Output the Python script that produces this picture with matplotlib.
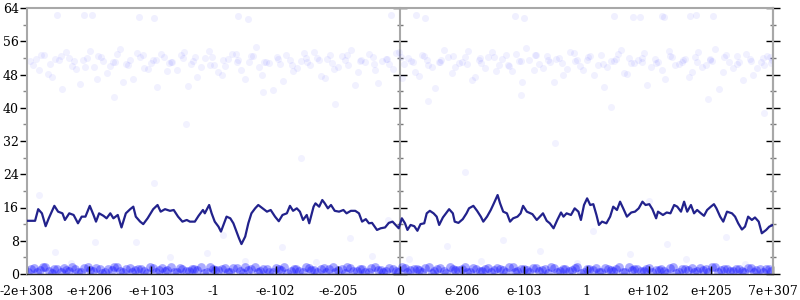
import matplotlib
matplotlib.use("Agg")
import matplotlib.pyplot as plt
from matplotlib.ticker import MultipleLocator

# moving average line, x in ordinal units (-6 .. 6)
line_x = [-6.00, -5.87, -5.82, -5.76, -5.70, -5.65, -5.56, -5.50, -5.43, -5.39,
          -5.32, -5.25, -5.18, -5.12, -5.06, -4.99, -4.93, -4.89, -4.84, -4.77,
          -4.72, -4.66, -4.61, -4.54, -4.48, -4.41, -4.34, -4.29, -4.25, -4.18,
          -4.13, -4.06, -3.97, -3.90, -3.85, -3.78, -3.70, -3.64, -3.57, -3.50,
          -3.43, -3.38, -3.30, -3.24, -3.17, -3.14, -3.07, -3.03, -2.98, -2.92,
          -2.88, -2.83, -2.79, -2.73, -2.68, -2.64, -2.59, -2.55, -2.49, -2.44,
          -2.39, -2.33, -2.28, -2.21, -2.14, -2.08, -2.01, -1.95, -1.89, -1.82,
          -1.77, -1.72, -1.66, -1.61, -1.56, -1.50, -1.46, -1.39, -1.36, -1.30,
          -1.25, -1.21, -1.16, -1.11, -1.05, -0.98, -0.91, -0.86, -0.79, -0.72,
          -0.66, -0.61, -0.55, -0.50, -0.45, -0.37, -0.31, -0.24, -0.18, -0.12,
          -0.07, -0.02, 0.03, 0.08, 0.12, 0.17, 0.23, 0.28, 0.33, 0.39,
          0.43, 0.48, 0.54, 0.59, 0.63, 0.69, 0.75, 0.79, 0.85, 0.88,
          0.94, 1.01, 1.07, 1.11, 1.18, 1.24, 1.30, 1.34, 1.40, 1.46,
          1.51, 1.57, 1.61, 1.66, 1.72, 1.77, 1.82, 1.89, 1.94, 1.98,
          2.04, 2.13, 2.20, 2.25, 2.30, 2.36, 2.41, 2.47, 2.53, 2.59,
          2.63, 2.68, 2.75, 2.81, 2.87, 2.91, 2.96, 3.01, 3.06, 3.11,
          3.16, 3.20, 3.25, 3.32, 3.38, 3.43, 3.49, 3.54, 3.59, 3.65,
          3.72, 3.78, 3.84, 3.90, 3.95, 4.01, 4.06, 4.12, 4.15, 4.23,
          4.29, 4.35, 4.41, 4.46, 4.52, 4.57, 4.62, 4.68, 4.73, 4.78,
          4.84, 4.89, 4.94, 5.00, 5.05, 5.09, 5.15, 5.20, 5.26, 5.34,
          5.39, 5.44, 5.50, 5.55, 5.60, 5.66, 5.71, 5.77, 5.82, 5.89,
          5.94, 6.00]
line_y = [12.8, 12.8, 15.6, 14.6, 11.5, 13.4, 16.4, 15.0, 14.6, 13.0,
          14.6, 14.2, 12.2, 13.8, 13.8, 16.4, 14.2, 12.6, 14.6, 14.0,
          13.4, 14.6, 13.4, 14.2, 11.2, 14.6, 15.6, 16.2, 13.8, 12.6,
          12.0, 13.4, 15.6, 16.6, 15.0, 15.6, 15.2, 15.4, 13.8, 12.6,
          13.0, 12.6, 12.6, 14.0, 15.4, 14.6, 16.6, 14.6, 12.6, 11.4,
          10.2, 12.2, 13.8, 13.4, 12.2, 10.6, 8.6, 7.2, 9.0, 12.2,
          14.6, 15.8, 16.6, 15.8, 15.0, 15.4, 13.8, 12.7, 14.2, 14.6,
          16.4, 15.2, 15.8, 15.0, 13.0, 14.2, 12.2, 16.2, 17.0, 16.2,
          17.8, 17.0, 15.8, 16.6, 15.2, 15.0, 15.4, 14.6, 15.2, 15.2,
          14.6, 12.6, 13.2, 12.2, 12.3, 10.6, 11.0, 11.2, 12.3, 12.6,
          11.8, 11.0, 13.4, 12.2, 10.6, 11.8, 11.5, 10.4, 12.0, 12.2,
          14.6, 15.2, 14.6, 13.8, 11.8, 13.6, 14.8, 15.6, 14.6, 12.6,
          12.3, 13.2, 14.6, 15.8, 16.4, 15.2, 13.8, 12.6, 13.8, 15.4,
          17.0, 19.0, 17.0, 15.0, 14.6, 12.6, 13.4, 13.8, 14.6, 16.4,
          15.0, 14.4, 13.0, 13.8, 14.6, 12.8, 12.2, 11.0, 13.0, 14.8,
          13.8, 14.6, 14.2, 15.8, 15.0, 13.0, 16.6, 18.2, 16.6, 16.8,
          14.2, 11.8, 12.6, 12.2, 13.8, 16.2, 15.4, 17.4, 15.8, 13.8,
          14.8, 15.0, 15.8, 17.4, 16.6, 16.8, 15.6, 13.4, 15.0, 14.2,
          14.8, 14.6, 16.6, 16.2, 15.0, 17.4, 15.0, 16.6, 14.6, 15.4,
          14.6, 14.0, 15.4, 16.2, 16.8, 15.8, 13.8, 12.6, 15.0, 14.6,
          13.8, 12.2, 10.7, 11.4, 13.8, 13.0, 13.6, 12.6, 9.8, 10.6,
          11.4, 11.8]

# upper band of samples
up_x = [-5.95, -5.81, -5.72, -5.60, -5.49, -5.38, -5.27, -5.15, -5.04, -4.93,
        -4.85, -4.71, -4.62, -4.50, -4.41, -4.29, -4.18, -4.06, -3.97, -3.85,
        -3.74, -3.66, -3.52, -3.41, -3.33, -3.20, -3.08, -2.99, -2.87, -2.76,
        -2.64, -2.55, -2.43, -2.31, -2.22, -2.10, -1.98, -1.89, -1.77, -1.66,
        -1.54, -1.45, -1.33, -1.21, -1.12, -1.00, -0.88, -0.79, -0.67, -0.56,
        -0.44, -0.35, -0.23, -0.11, -0.02, 0.07, 0.18, 0.30, 0.39, 0.51,
        0.62, 0.71, 0.83, 0.95, 1.04, 1.16, 1.27, 1.36, 1.48, 1.59,
        1.71, 1.80, 1.92, 2.03, 2.15, 2.24, 2.36, 2.47, 2.56, 2.68,
        2.80, 2.89, 3.01, 3.12, 3.24, 3.33, 3.45, 3.56, 3.65, 3.77,
        3.89, 3.98, 4.10, 4.21, 4.33, 4.42, 4.54, 4.65, 4.74, 4.86,
        4.98, 5.07, 5.19, 5.30, 5.42, 5.51, 5.63, 5.74, 5.86, 5.95]
up_y = [51.2, 49.0, 52.8, 47.5, 51.6, 53.4, 50.1, 45.8, 51.9, 49.7,
        52.4, 48.3, 51.0, 54.1, 50.6, 46.9, 52.2, 49.4, 51.5, 53.0,
        48.8, 50.9, 52.6, 45.2, 51.3, 49.9, 53.7, 50.4, 47.8, 51.8,
        52.9, 49.2, 51.1, 54.6, 48.0, 50.7, 52.3, 46.4, 51.6, 49.5,
        53.2, 50.2, 51.9, 47.1, 52.7, 49.8, 51.4, 54.0, 48.6, 50.9,
        52.1, 45.9, 51.7, 49.3, 53.3, 50.5, 51.2, 47.6, 52.5, 49.9,
        51.0, 53.9, 48.4, 50.8, 52.2, 46.7, 51.5, 49.6, 53.5, 50.3,
        52.8, 48.9, 51.3, 54.4, 49.1, 50.6, 52.4, 46.1, 51.9, 49.4,
        53.1, 50.0, 51.6, 47.9, 52.6, 49.7, 51.2, 53.8, 48.2, 50.7,
        52.0, 45.5, 51.8, 49.2, 53.6, 50.4, 51.1, 47.3, 52.3, 49.8,
        51.4, 54.2, 48.7, 50.9, 52.5, 46.6, 51.7, 49.5, 50.2, 52.1]

up2_x = [-5.90, -5.77, -5.66, -5.55, -5.43, -5.32, -5.21, -5.10, -4.98, -4.88,
         -4.77, -4.66, -4.55, -4.45, -4.34, -4.23, -4.12, -4.01, -3.91, -3.79,
         -3.69, -3.58, -3.47, -3.36, -3.26, -3.14, -3.03, -2.93, -2.82, -2.70,
         -2.60, -2.49, -2.37, -2.27, -2.16, -2.04, -1.93, -1.83, -1.72, -1.60,
         -1.50, -1.39, -1.27, -1.17, -1.06, -0.94, -0.84, -0.73, -0.62, -0.50,
         -0.40, -0.29, -0.17, -0.07, 0.03, 0.13, 0.24, 0.35, 0.45, 0.57,
         0.66, 0.77, 0.89, 0.99, 1.10, 1.21, 1.31, 1.42, 1.54, 1.64,
         1.75, 1.86, 1.97, 2.08, 2.19, 2.30, 2.41, 2.51, 2.62, 2.74,
         2.84, 2.95, 3.06, 3.18, 3.28, 3.39, 3.50, 3.61, 3.71, 3.83,
         3.93, 4.04, 4.15, 4.27, 4.37, 4.48, 4.59, 4.70, 4.80, 4.92,
         5.02, 5.13, 5.24, 5.36, 5.46, 5.57, 5.68, 5.80, 5.90, 5.99]
up2_y = [50.4, 52.6, 48.1, 51.7, 44.6, 52.0, 49.3, 51.4, 53.6, 47.0,
         51.2, 50.0, 52.9, 46.3, 51.5, 53.1, 49.6, 50.8, 44.9, 52.3,
         51.0, 49.0, 53.4, 50.6, 47.4, 51.9, 52.2, 48.5, 50.1, 53.0,
         51.4, 46.8, 52.5, 49.7, 51.1, 44.3, 50.5, 52.7, 48.9, 51.3,
         50.9, 53.5, 47.7, 51.8, 49.4, 52.4, 50.3, 45.4, 51.6, 52.9,
         49.1, 51.3, 50.6, 53.2, 47.2, 51.9, 48.5, 52.6, 50.2, 44.8,
         51.5, 52.3, 49.8, 51.1, 53.7, 47.5, 50.7, 52.1, 48.8, 51.7,
         50.1, 53.0, 46.2, 51.4, 52.8, 49.5, 50.9, 51.8, 47.9, 53.3,
         51.6, 49.2, 52.5, 50.4, 45.0, 51.2, 52.9, 48.3, 50.8, 51.5,
         53.1, 49.9, 51.0, 46.9, 52.2, 50.6, 51.8, 48.6, 53.4, 50.2,
         51.3, 44.5, 52.7, 49.6, 51.1, 53.0, 47.8, 50.9, 52.4, 51.6]

up3_x = [-5.85, -5.63, -5.45, -5.24, -5.06, -4.81, -4.58, -4.38, -4.14, -3.93,
         -3.72, -3.49, -3.29, -3.05, -2.84, -2.62, -2.40, -2.19, -1.96, -1.74,
         -1.52, -1.31, -1.09, -0.86, -0.64, -0.42, -0.21, 0.01, 0.21, 0.43,
         0.64, 0.86, 1.08, 1.29, 1.51, 1.73, 1.94, 2.17, 2.38, 2.60,
         2.82, 3.03, 3.26, 3.47, 3.69, 3.90, 4.12, 4.34, 4.55, 4.77,
         4.99, 5.21, 5.42, 5.64, 5.84, 5.97]
up3_y = [51.8, 50.6, 52.4, 51.3, 49.9, 52.1, 51.0, 50.4, 52.7, 51.5,
         50.8, 51.9, 52.3, 50.2, 51.6, 51.1, 52.5, 50.9, 51.7, 50.3,
         52.0, 51.4, 50.7, 52.6, 51.2, 50.5, 51.8, 52.2, 50.9, 51.5,
         51.0, 52.4, 50.6, 51.9, 52.1, 50.4, 51.3, 52.7, 51.6, 50.8,
         51.2, 52.3, 50.5, 51.7, 52.0, 51.1, 50.7, 52.5, 51.4, 50.9,
         51.8, 52.2, 50.6, 51.3, 51.9, 50.8]

hi_x = [-5.52, -5.08, -4.95, -4.20, -3.95, -2.60, -2.45, -0.15, 0.25, 0.40,
        1.85, 2.00, 3.45, 3.75, 3.86, 4.21, 4.25, 4.66, 4.76, 5.03]
hi_y = [62.3, 62.3, 62.3, 61.8, 61.6, 62.0, 61.4, 62.2, 62.4, 61.7,
        62.1, 61.5, 62.0, 61.8, 61.9, 62.0, 61.9, 62.0, 62.2, 62.1]

mid_x = [-5.80, -5.55, -5.30, -4.90, -4.60, -4.25, -3.95, -3.70, -3.45, -3.10,
         -2.85, -2.50, -2.20, -1.90, -1.60, -1.35, -1.05, -0.80, -0.45, -0.20,
         0.15, 0.45, 0.75, 1.05, 1.30, 1.65, 1.95, 2.25, 2.50, 2.85,
         3.10, 3.40, 3.70, 4.00, 4.30, 4.60, 4.95, 5.25, 5.55, 5.85]
mid_y = [19.0, 5.3, 2.6, 7.7, 42.5, 7.7, 21.9, 4.1, 36.0, 5.0,
         9.5, 3.2, 43.8, 6.4, 28.0, 2.9, 40.9, 8.6, 4.4, 13.0,
         3.7, 41.6, 6.8, 24.5, 3.1, 8.2, 43.0, 5.6, 31.5, 2.7,
         10.4, 40.2, 4.8, 17.5, 7.1, 3.5, 42.1, 9.0, 2.4, 38.7]

# lower band of samples
lo_x = [-5.98, -5.89, -5.79, -5.71, -5.60, -5.52, -5.41, -5.33, -5.22, -5.13,
        -5.02, -4.94, -4.83, -4.75, -4.64, -4.55, -4.46, -4.35, -4.27, -4.16,
        -4.07, -3.97, -3.88, -3.78, -3.69, -3.58, -3.50, -3.39, -3.31, -3.20,
        -3.11, -3.01, -2.92, -2.81, -2.73, -2.62, -2.53, -2.44, -2.33, -2.25,
        -2.14, -2.05, -1.95, -1.86, -1.75, -1.67, -1.56, -1.47, -1.38, -1.27,
        -1.19, -1.08, -0.99, -0.89, -0.80, -0.69, -0.61, -0.50, -0.41, -0.31,
        -0.22, -0.11, -0.03, 0.08, 0.16, 0.27, 0.36, 0.46, 0.55, 0.65,
        0.74, 0.85, 0.93, 1.04, 1.12, 1.23, 1.32, 1.42, 1.51, 1.61,
        1.70, 1.81, 1.89, 2.00, 2.08, 2.19, 2.28, 2.38, 2.47, 2.57,
        2.66, 2.77, 2.85, 2.96, 3.04, 3.15, 3.24, 3.34, 3.43, 3.53,
        3.62, 3.73, 3.81, 3.92, 4.00, 4.11, 4.20, 4.30, 4.39, 4.49,
        4.58, 4.69, 4.77, 4.88, 4.96, 5.07, 5.16, 5.26, 5.35, 5.45,
        5.54, 5.65, 5.73, 5.84, 5.93]
lo_y = [0.6, 1.4, 0.9, 1.7, 0.3, 1.1, 1.5, 0.7, 1.2, 0.4,
        1.6, 0.8, 1.3, 0.5, 1.0, 1.7, 0.6, 1.4, 0.9, 1.2,
        0.3, 1.5, 1.0, 0.7, 1.6, 0.4, 1.3, 0.8, 1.1, 1.7,
        0.5, 1.2, 0.9, 1.5, 0.6, 1.4, 0.3, 1.0, 1.6, 0.8,
        1.3, 0.5, 1.1, 1.7, 0.7, 1.2, 0.4, 1.5, 0.9, 1.3,
        0.6, 1.6, 1.0, 0.3, 1.4, 0.8, 1.2, 0.5, 1.7, 1.0,
        0.7, 1.3, 0.4, 1.5, 0.9, 1.1, 0.6, 1.6, 0.8, 1.4,
        0.3, 1.2, 1.0, 1.7, 0.5, 1.3, 0.7, 1.5, 0.9, 1.1,
        0.4, 1.6, 0.8, 1.2, 0.6, 1.4, 1.0, 0.3, 1.5, 0.7,
        1.3, 0.9, 1.7, 0.5, 1.1, 1.4, 0.6, 1.2, 0.8, 1.6,
        0.4, 1.0, 1.3, 0.7, 1.5, 0.9, 1.2, 0.3, 1.7, 0.6,
        1.1, 1.4, 0.8, 1.0, 0.5, 1.6, 0.9, 1.3, 0.7, 1.2,
        0.4, 1.5, 1.0, 0.6, 1.3]

lo2_x = [-5.94, -5.84, -5.75, -5.65, -5.56, -5.46, -5.37, -5.27, -5.18, -5.08,
         -4.98, -4.89, -4.79, -4.70, -4.60, -4.51, -4.41, -4.31, -4.22, -4.12,
         -4.02, -3.93, -3.83, -3.74, -3.64, -3.54, -3.45, -3.35, -3.26, -3.16,
         -3.06, -2.97, -2.87, -2.77, -2.68, -2.58, -2.49, -2.39, -2.29, -2.20,
         -2.10, -2.00, -1.91, -1.81, -1.71, -1.62, -1.52, -1.43, -1.33, -1.23,
         -1.14, -1.04, -0.94, -0.85, -0.75, -0.65, -0.56, -0.46, -0.36, -0.27,
         -0.17, -0.07, 0.03, 0.12, 0.22, 0.31, 0.41, 0.51, 0.60, 0.70,
         0.80, 0.89, 0.99, 1.08, 1.18, 1.28, 1.37, 1.47, 1.56, 1.66,
         1.76, 1.85, 1.95, 2.04, 2.14, 2.24, 2.33, 2.43, 2.52, 2.62,
         2.72, 2.81, 2.91, 3.00, 3.10, 3.20, 3.29, 3.39, 3.48, 3.58,
         3.68, 3.77, 3.87, 3.96, 4.06, 4.16, 4.25, 4.35, 4.44, 4.54,
         4.64, 4.73, 4.83, 4.92, 5.02, 5.12, 5.21, 5.31, 5.40, 5.50,
         5.60, 5.69, 5.79, 5.88, 5.97]
lo2_y = [1.2, 0.5, 1.6, 0.8, 1.3, 0.4, 1.0, 1.7, 0.6, 1.4,
         0.9, 1.5, 0.3, 1.1, 1.6, 0.7, 1.3, 0.5, 1.2, 0.8,
         1.7, 0.6, 1.4, 1.0, 0.4, 1.5, 0.7, 1.2, 0.9, 0.3,
         1.6, 1.0, 1.3, 0.5, 1.4, 0.8, 1.7, 1.1, 0.6, 1.2,
         0.4, 1.5, 0.9, 0.3, 1.3, 0.7, 1.6, 1.0, 0.5, 1.4,
         1.1, 0.6, 1.3, 1.7, 0.8, 1.2, 0.4, 1.5, 0.9, 0.6,
         1.4, 0.8, 1.6, 0.5, 1.2, 1.0, 1.5, 0.3, 1.3, 0.7,
         1.6, 0.9, 1.1, 0.4, 1.4, 0.8, 1.2, 0.6, 1.5, 1.0,
         1.7, 0.5, 1.3, 0.9, 1.4, 0.7, 1.1, 1.6, 0.4, 1.2,
         0.8, 1.5, 0.3, 1.3, 1.0, 0.6, 1.4, 0.9, 1.2, 0.5,
         1.6, 1.1, 0.7, 1.3, 0.4, 1.0, 0.8, 1.5, 0.3, 1.2,
         0.9, 0.6, 1.4, 1.1, 1.6, 0.5, 1.3, 0.7, 1.2, 0.8,
         1.5, 0.4, 1.1, 1.3, 0.7]

tick_pos = [-6, -5, -4, -3, -2, -1, 0, 1, 2, 3, 4, 5, 6]
tick_labels = ["-2e+308", "-e+206", "-e+103", "-1", "-e-102", "-e-205", "0",
               "e-206", "e-103", "1", "e+102", "e+205", "7e+307"]

plt.rcParams["font.family"] = "DejaVu Serif"
plt.rcParams["font.size"] = 9

fig = plt.figure(figsize=(8, 3), dpi=100)
ax = fig.add_axes([27 / 800, 26 / 300, 746 / 800, 266 / 300])

ax.scatter(lo_x + lo2_x, lo_y + lo2_y, s=40, color="#0000ff", alpha=0.33,
           linewidths=0)
ax.scatter(up_x + up2_x + up3_x, up_y + up2_y + up3_y, s=26, color="#0000ff",
           alpha=0.055, linewidths=0)
ax.scatter(hi_x, hi_y, s=26, color="#0000ff", alpha=0.06, linewidths=0)
ax.scatter(mid_x, mid_y, s=26, color="#0000ff", alpha=0.05, linewidths=0)
ax.plot(line_x, line_y, color="#22228c", lw=1.6, zorder=5)

ax.set_xlim(-6, 6)
ax.set_ylim(0, 64)
ax.set_xticks(tick_pos)
ax.set_xticklabels(tick_labels)
ax.yaxis.set_major_locator(MultipleLocator(8))
ax.yaxis.set_minor_locator(MultipleLocator(4))

for side in ["top", "right", "left"]:
    ax.spines[side].set_color("#a8a8a8")
    ax.spines[side].set_linewidth(1.5)
ax.spines["bottom"].set_color("#222222")
ax.spines["bottom"].set_linewidth(1.0)

ax.tick_params(axis="x", direction="in", length=6, width=1, color="black", pad=8)
ax.tick_params(axis="y", which="major", direction="out", length=5, width=1,
               color="black", pad=1)
ax.tick_params(axis="y", which="minor", direction="out", length=3, width=1,
               color="#888888")

# middle and right axes with ticks crossing the line
for loc in [0.5, 1.0]:
    sec = ax.secondary_yaxis(loc)
    sec.yaxis.set_major_locator(MultipleLocator(8))
    sec.yaxis.set_minor_locator(MultipleLocator(4))
    sec.tick_params(which="major", direction="inout", length=10, width=1,
                    color="black", labelleft=False, labelright=False)
    sec.tick_params(which="minor", direction="inout", length=5, width=1,
                    color="#777777")
    sec.spines["left"].set_color("#999999")
    sec.spines["right"].set_color("#a8a8a8")
    sec.spines["left"].set_linewidth(1.0 if loc == 0.5 else 1.5)
    sec.spines["right"].set_linewidth(1.5)

fig.savefig("out.png", dpi=100)
